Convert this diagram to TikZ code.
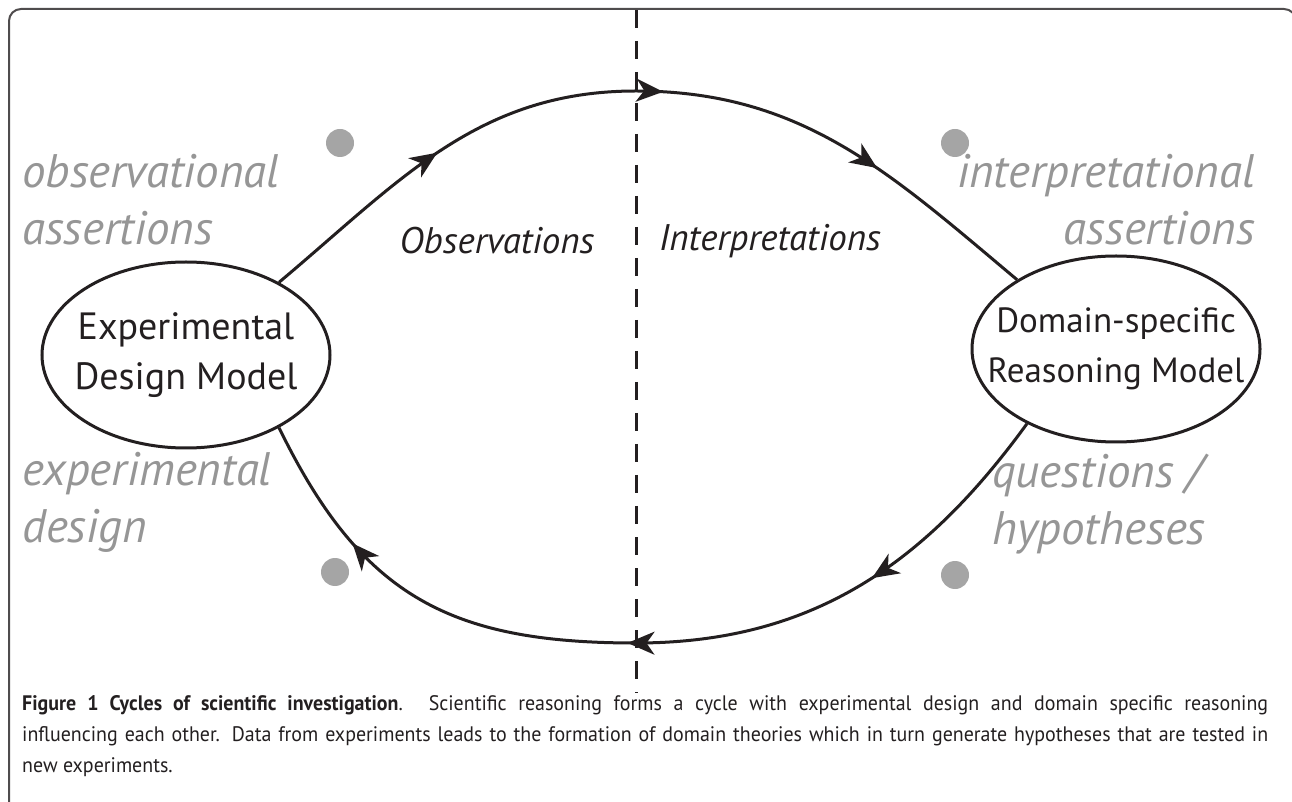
\documentclass[tikz,border=0pt]{standalone}
\usepackage{fontspec}
\setmainfont{PT Sans}
\newfontfamily\capfont[FakeStretch=0.95]{PT Sans}
\usetikzlibrary{shapes.geometric,arrows.meta,decorations.markings}
\definecolor{notegray}{RGB}{150,150,150}
\definecolor{dotgray}{RGB}{165,165,165}
\definecolor{inkblack}{RGB}{35,31,32}
\tikzset{
	cyctip/.tip = {Stealth[length=27pt, width=23pt, inset=8pt]},
	modelnode/.style = {ellipse, draw=inkblack, line width=3pt, minimum width=288pt, minimum height=186pt, inner sep=0pt},
	modeltext/.style = {align=center, inner sep=0pt, text=inkblack, font={\fontsize{#1}{50}\selectfont}},
	notetext/.style = {inner sep=0pt, text=notegray, font={\fontsize{47}{57}\selectfont\itshape}},
	phasetext/.style = {inner sep=0pt, text=inkblack, font={\fontsize{37}{44}\selectfont\itshape}},
	dotmark/.style = {circle, fill=dotgray, minimum size=28pt, inner sep=0pt},
	divider/.style = {draw=inkblack, line width=3pt, dash pattern=on 18pt off 13pt},
	figframe/.style = {draw=inkblack!80, line width=2pt, rounded corners=12pt},
	cycleline/.style = {draw=inkblack, line width=3pt, postaction={decorate},
		decoration={markings,
			mark=at position 0.24 with {\arrow{cyctip}},
			mark=at position 0.52 with {\arrow{cyctip}},
			mark=at position #1 with {\arrow{cyctip}}}},
	captext/.style = {inner sep=0pt, text width=1246pt, align=justify, text=inkblack, font={\capfont\fontsize{21}{31}\selectfont}}
}
\begin{document}
\begin{tikzpicture}[x=1pt, y=1pt]
	\useasboundingbox (0,0) rectangle (1292,801);
	\draw[figframe] (9,-10) -- (9,792) -- (1296,792) -- (1296,-10);
	\coordinate (divtop) at (636,791);
	\coordinate (divbot) at (636,108);
	\draw[divider] (divtop) -- (divbot);
	\node[modelnode] (design) at (186,446) {};
	\node[modeltext=38] (designtxt) at (design) {Experimental\\Design Model};
	\node[modelnode] (reason) at (1116,452) {};
	\node[modeltext=35] (reasontxt) at (reason) {Domain-specific\\Reasoning Model};
	\coordinate (obs) at (636,710);
	\coordinate (hyp) at (636,158);
	\draw[cycleline=0.79] (design.38) to[out=40, in=180] (obs) to[out=0, in=140] (reason.145);
	\draw[cycleline=0.85] (reason.-140) to[out=-126, in=0] (hyp) to[out=180, in=-64, looseness=1.15] (design.-38);
	\node[phasetext] (obstxt) at (497,560) {Observations};
	\node[phasetext] (inttxt) at (770,560) {Interpretations};
	\node[notetext, anchor=west, align=left] (obsnote) at (22,601) {observational\\assertions};
	\node[notetext, anchor=east, align=right] (intnote) at (1255,601) {interpretational\\assertions};
	\node[notetext, anchor=west, align=left] (dsgnote) at (22,299) {experimental\\design};
	\node[notetext, anchor=west, align=left] (hypnote) at (992,297) {questions /\\hypotheses};
	\node[dotmark] (dot1) at (340,658) {};
	\node[dotmark] (dot2) at (955,658) {};
	\node[dotmark] (dot3) at (335,229) {};
	\node[dotmark] (dot4) at (955,226) {};
	\node[captext, anchor=north west] (caption) at (22,106) {\hyphenpenalty=10000\textbf{Figure 1 Cycles of scientific investigation}. Scientific reasoning forms a cycle with experimental design and domain specific reasoning\linebreak influencing each other. Data from experiments leads to the formation of domain theories which in turn generate hypotheses that are tested in\linebreak new experiments.};
\end{tikzpicture}
\end{document}
